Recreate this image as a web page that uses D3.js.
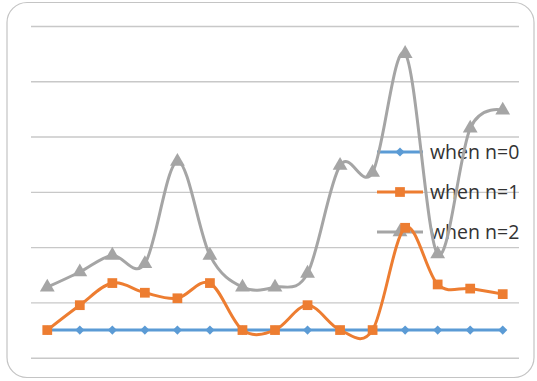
<!DOCTYPE html>
<html>
<head>
<meta charset="utf-8">
<script src="https://cdn.jsdelivr.net/npm/d3@7"></script>
<style>
  html, body { margin: 0; padding: 0; background: #fff; }
  svg { display: block; }
</style>
</head>
<body>
<svg id="chart" width="537" height="381"></svg>
<script>
// Categories along the x axis (15 steps, unlabeled)
const categories = d3.range(1, 16);

// Series values
const seriesNames = ["when n=0", "when n=1", "when n=2"];
const n0 = [1, 1, 1, 1, 1, 1, 1, 1, 1, 1, 1, 1, 1, 1, 1];
const n1 = [1, 1.9, 2.7, 2.35, 2.15, 2.7, 1, 1, 1.9, 1, 1, 4.7, 2.65, 2.5, 2.3];
const n2 = [2.55, 3.1, 3.7, 3.4, 7.1, 3.7, 2.55, 2.55, 3.05, 6.95, 6.7, 11, 3.75, 8.3, 8.95];

// Gridline values
const yTicks = [0, 2, 4, 6, 8, 10, 12];

const colors = ["#5B9BD5", "#ED7D31", "#A5A5A5"];
// Marker shapes: diamond is a square turned 45°, then square and triangle
const shapes = [d3.symbolSquare, d3.symbolSquare, d3.symbolTriangle];
const symSizes = [42, 95, 95];
const rotations = [45, 0, 0];

const svg = d3.select("#chart");
const plot = { left: 31, right: 519, top: 26, bottom: 357.7 };

// Outer chart frame
svg.append("rect")
  .attr("x", 7).attr("y", 2.5)
  .attr("width", 527).attr("height", 375)
  .attr("rx", 20).attr("ry", 20)
  .attr("fill", "#fff")
  .attr("stroke", "#C4C4C4")
  .attr("stroke-width", 1.2);

const x = d3.scaleBand().domain(categories).range([plot.left, plot.right]).padding(0);
const y = d3.scaleLinear().domain([0, 12]).range([plot.bottom, plot.top]);
const cx = d => x(d) + x.bandwidth() / 2;

// Horizontal gridlines
const yAxis = d3.axisLeft(y).tickValues(yTicks).tickSize(-(plot.right - plot.left)).tickFormat("");
const gAxis = svg.append("g").attr("transform", `translate(${plot.left},0)`).call(yAxis);
gAxis.select(".domain").remove();
gAxis.selectAll(".tick line").attr("stroke", "#C8C8C8").attr("stroke-width", 1.4);

// Legend (drawn beneath the series)
const legendY = [152, 192, 232];
const legend = svg.append("g");
seriesNames.forEach((name, i) => {
  const g = legend.append("g").attr("transform", `translate(0,${legendY[i]})`);
  g.append("line").attr("x1", 377).attr("x2", 423).attr("y1", 0).attr("y2", 0)
    .attr("stroke", colors[i]).attr("stroke-width", 3);
  g.append("path").attr("d", d3.symbol(shapes[i], symSizes[i])())
    .attr("transform", `translate(400,0) rotate(${rotations[i]})`).attr("fill", colors[i]);
  g.append("text").attr("x", 430).attr("y", 7)
    .attr("font-family", "'Open Sans', sans-serif").attr("font-size", 19.5)
    .attr("fill", "#333333").text(name);
});

// Smoothed series lines with markers
const line = d3.line()
  .x((d, i) => cx(categories[i]))
  .y(d => y(d))
  .curve(d3.curveCatmullRom.alpha(0));

[n0, n1, n2].forEach((vals, i) => {
  const g = svg.append("g");
  g.append("path").datum(vals).attr("d", line)
    .attr("fill", "none").attr("stroke", colors[i]).attr("stroke-width", 3)
    .attr("stroke-linejoin", "round").attr("stroke-linecap", "round");
  g.selectAll("path.marker").data(vals).join("path").attr("class", "marker")
    .attr("d", d3.symbol(shapes[i], symSizes[i])())
    .attr("transform", (d, j) => `translate(${cx(categories[j])},${y(d)}) rotate(${rotations[i]})`)
    .attr("fill", colors[i]);
});
</script>
</body>
</html>
